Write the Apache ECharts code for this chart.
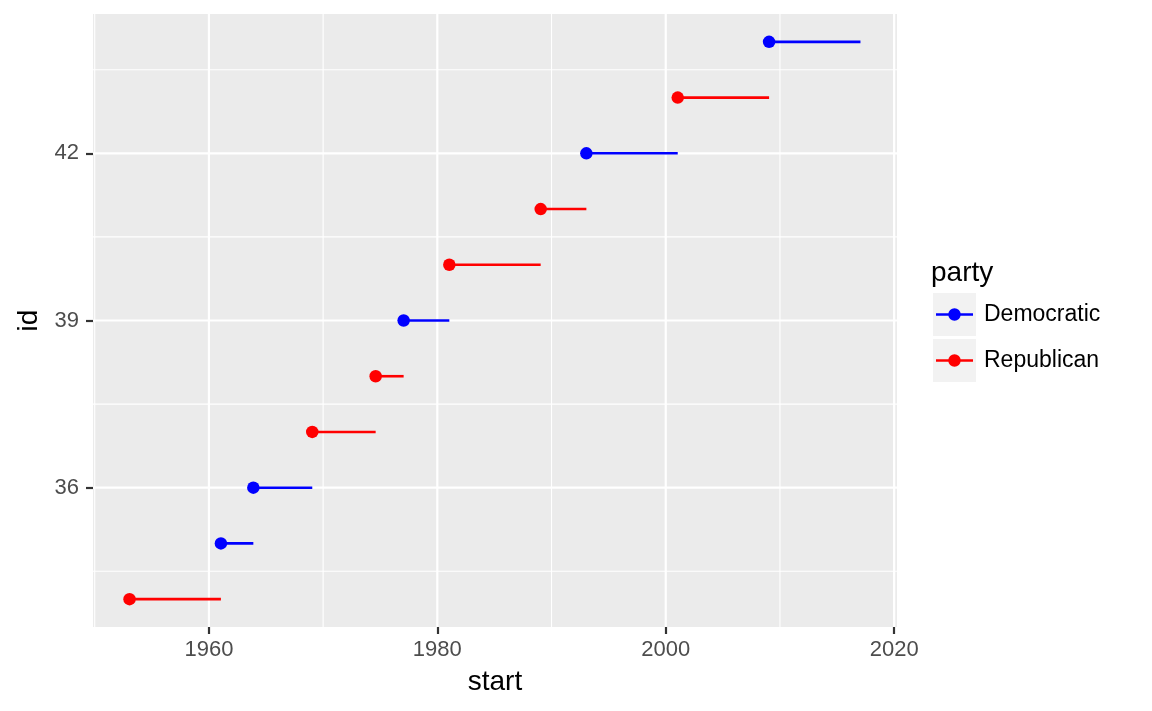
<!DOCTYPE html>
<html><head><meta charset="utf-8">
<script src="https://cdn.jsdelivr.net/npm/echarts@6/dist/echarts.min.js"></script>
<style>html,body{margin:0;padding:0;background:#fff}#c{width:1152px;height:711px}</style>
</head><body><div id="c"></div>
<script>
const ids     = [34, 35, 36, 37, 38, 39, 40, 41, 42, 43, 44];
const starts  = [1953.05, 1961.05, 1963.89, 1969.05, 1974.60, 1977.05, 1981.05, 1989.05, 1993.05, 2001.05, 2009.05];
const ends    = [1961.05, 1963.89, 1969.05, 1974.60, 1977.05, 1981.05, 1989.05, 1993.05, 2001.05, 2009.05, 2017.05];
const parties = ['Republican','Democratic','Democratic','Republican','Republican','Democratic','Republican','Republican','Democratic','Republican','Democratic'];
const partyNames = ['Democratic', 'Republican'];
const partyColors = {Democratic: '#0000FF', Republican: '#FF0000'};
const xMajor = [1960, 1980, 2000, 2020];
const xMinor = [1950, 1970, 1990, 2010];
const yMajor = [36, 39, 42];
const yMinor = [34.5, 37.5, 40.5, 43.5];

const X_MIN = 1949.85, X_MAX = 2020.25, Y_MIN = 33.5, Y_MAX = 44.5;
const FONT = '"Liberation Sans", Arial, sans-serif';

const chart = echarts.init(document.getElementById('c'));
const rows = ids.map((id, i) => [starts[i], id, ends[i], parties[i]]);

const series = [{
  type: 'custom',
  silent: true,
  z: 1,
  data: [[X_MIN, Y_MIN]],
  renderItem: (params, api) => {
    const children = [];
    const vline = (v, w) => {
      const a = api.coord([v, Y_MIN]), b = api.coord([v, Y_MAX]);
      children.push({type: 'line', shape: {x1: a[0], y1: a[1], x2: b[0], y2: b[1]}, style: {stroke: '#FFFFFF', lineWidth: w}});
    };
    const hline = (v, w) => {
      const a = api.coord([X_MIN, v]), b = api.coord([X_MAX, v]);
      children.push({type: 'line', shape: {x1: a[0], y1: a[1], x2: b[0], y2: b[1]}, style: {stroke: '#FFFFFF', lineWidth: w}});
    };
    xMinor.forEach(v => vline(v, 1.1));
    yMinor.forEach(v => hline(v, 1.1));
    xMajor.forEach(v => vline(v, 2.2));
    yMajor.forEach(v => hline(v, 2.2));
    return {type: 'group', children: children};
  }
}];
partyNames.forEach(p => {
  const d = rows.filter(r => r[3] === p);
  series.push({
    type: 'custom', name: p, z: 3,
    data: d,
    encode: {x: [0, 2], y: 1},
    renderItem: (params, api) => {
      const a = api.coord([api.value(0), api.value(1)]);
      const b = api.coord([api.value(2), api.value(1)]);
      return {type: 'line', shape: {x1: a[0], y1: a[1], x2: b[0], y2: b[1]},
              style: {stroke: partyColors[p], lineWidth: 2.6}};
    }
  });
  series.push({
    type: 'scatter', name: p, z: 4,
    data: d.map(r => [r[0], r[1]]),
    symbol: 'circle', symbolSize: 12.5,
    itemStyle: {color: partyColors[p], opacity: 1}
  });
});

const lgX = 933, lgY = 293, keyW = 43, keyH = 43, gap = 3;
const legendEls = [{type: 'text', left: 931, top: 259, style: {text: 'party', font: '28px ' + FONT, fill: '#000'}}];
partyNames.forEach((p, i) => {
  const y = lgY + i * (keyH + gap);
  legendEls.push({type: 'rect', shape: {x: lgX, y: y, width: keyW, height: keyH}, style: {fill: '#F2F2F2'}});
  legendEls.push({type: 'line', shape: {x1: lgX + 3, y1: y + keyH / 2, x2: lgX + keyW - 3, y2: y + keyH / 2}, style: {stroke: partyColors[p], lineWidth: 2.6}});
  legendEls.push({type: 'circle', shape: {cx: lgX + keyW / 2, cy: y + keyH / 2, r: 6.2}, style: {fill: partyColors[p]}});
  legendEls.push({type: 'text', x: 984, y: y + keyH / 2, style: {text: p, font: '23px ' + FONT, fill: '#000', verticalAlign: 'middle'}});
});

chart.setOption({
  animation: false,
  grid: {left: 93, top: 14, right: 1152 - 897, bottom: 711 - 627, show: true, backgroundColor: '#EBEBEB', borderWidth: 0},
  xAxis: {
    type: 'value', min: X_MIN, max: X_MAX,
    name: 'start', nameLocation: 'middle', nameGap: 41,
    nameTextStyle: {fontSize: 28, color: '#000', fontFamily: 'Liberation Sans'},
    axisLine: {show: false},
    splitLine: {show: false},
    axisTick: {show: true, customValues: xMajor, length: 7, lineStyle: {color: '#333333', width: 2.2}},
    axisLabel: {customValues: xMajor, formatter: v => String(v), fontSize: 22, color: '#4D4D4D', margin: 12, fontFamily: 'Liberation Sans'}
  },
  yAxis: {
    type: 'value', min: Y_MIN, max: Y_MAX,
    name: 'id', nameLocation: 'middle', nameGap: 46, nameRotate: 90,
    nameTextStyle: {fontSize: 28, color: '#000', fontFamily: 'Liberation Sans'},
    axisLine: {show: false},
    splitLine: {show: false},
    axisTick: {show: true, customValues: yMajor, length: 7, lineStyle: {color: '#333333', width: 2.2}},
    axisLabel: {customValues: yMajor, formatter: v => String(v), fontSize: 22, color: '#4D4D4D', margin: 14, fontFamily: 'Liberation Sans'}
  },
  series: series,
  graphic: legendEls
});
</script></body></html>
